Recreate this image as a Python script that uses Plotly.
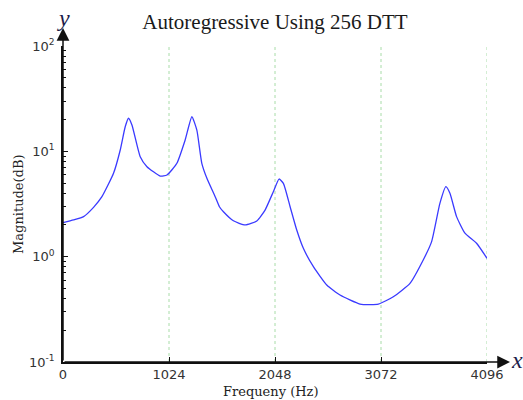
import plotly.graph_objects as go

# Frequency (Hz) and magnitude values
freq = [0, 102, 199, 295, 376, 488, 553, 601, 633, 666, 746, 811, 939, 1004,
        1100, 1180, 1245, 1293, 1341, 1390, 1470, 1511, 1550, 1646, 1759, 1872,
        1952, 2032, 2087, 2129, 2194, 2258, 2322, 2419, 2548, 2676, 2869, 3046,
        3191, 3352, 3480, 3561, 3641, 3699, 3738, 3802, 3883, 3995, 4096]
magnitude = [2.10, 2.23, 2.40, 2.94, 3.71, 6.19, 10.3, 17.1, 20.6, 17.8, 8.89,
             7.15, 5.83, 5.96, 7.70, 12.8, 21.3, 15.9, 7.70, 5.55, 3.71, 2.98,
             2.67, 2.19, 2.00, 2.18, 2.77, 4.14, 5.46, 4.97, 2.98, 1.79, 1.20,
             0.803, 0.538, 0.432, 0.355, 0.354, 0.417, 0.558, 0.930, 1.39, 3.21,
             4.62, 4.00, 2.40, 1.67, 1.34, 0.965]
x_ticks = [0, 1024, 2048, 3072, 4096]
x_tick_labels = ["0", "1024", "2048", "3072", "4096"]
y_ticks = [0.1, 1, 10, 100]
y_tick_labels = ["10<sup>-1</sup>", "10<sup>0</sup>", "10<sup>1</sup>", "10<sup>2</sup>"]

title_text = "Autoregressive Using 256 DTT"
x_title = "Frequeny (Hz)"
y_title = "Magnitude(dB)"

W, H = 523, 400
ML, MR, MT, MB = 63, 36, 46, 38
PW = W - ML - MR
PH = H - MT - MB
GRID = "#a8dca8"

fig = go.Figure()
fig.add_trace(go.Scatter(
    x=freq, y=magnitude, mode="lines",
    line=dict(color="#3a3aff", width=1.3, shape="spline", smoothing=0.5),
    hoverinfo="skip", showlegend=False,
))

tick_font = dict(family="DejaVu Sans", size=13, color="#333333")

fig.update_layout(
    width=W, height=H, autosize=False,
    margin=dict(l=ML, r=MR, t=MT, b=MB, pad=0),
    paper_bgcolor="white", plot_bgcolor="white",
    title=dict(text=title_text, x=0.5, xanchor="center", xref="paper",
               y=1 - 22 / H, yref="container", yanchor="middle",
               font=dict(family="Liberation Serif", size=21, color="#1a1a1a")),
    xaxis=dict(
        range=[0, 4096], tickmode="array", tickvals=x_ticks, ticktext=x_tick_labels,
        ticks="inside", ticklen=5, tickwidth=1, tickcolor="#111111",
        showline=True, linecolor="#111111", linewidth=1.5,
        showgrid=False, zeroline=False, tickfont=tick_font, fixedrange=True,
    ),
    yaxis=dict(
        type="log", range=[-1, 2], tickmode="array", tickvals=y_ticks,
        ticktext=y_tick_labels,
        ticks="inside", ticklen=5, tickwidth=1, tickcolor="#111111",
        minor=dict(ticks="inside", ticklen=3, tickcolor="#111111", dtick="D1",
                   showgrid=False),
        showline=True, linecolor="#111111", linewidth=1.5,
        showgrid=False, zeroline=False, tickfont=tick_font,
        ticklabelstandoff=4, fixedrange=True,
    ),
)

# dashed vertical grid lines at the non-zero x ticks
for xv in x_ticks[1:]:
    fig.add_shape(type="line", xref="x", yref="paper", x0=xv, x1=xv,
                  y0=0, y1=1, line=dict(color=GRID, width=1, dash="3px,3px"),
                  layer="below")

# axis arrows
x_tip = 510
y_tip = 28
fig.add_annotation(xref="paper", yref="paper", x=(x_tip - ML) / PW, y=0,
                   axref="pixel", ayref="pixel", ax=-(x_tip - ML), ay=0,
                   text="", showarrow=True, arrowhead=2, arrowsize=1.7,
                   arrowwidth=1.5, arrowcolor="#111111")
fig.add_annotation(xref="paper", yref="paper", x=0, y=1 + (MT - y_tip) / PH,
                   axref="pixel", ayref="pixel", ax=0, ay=(H - MB) - y_tip,
                   text="", showarrow=True, arrowhead=2, arrowsize=1.7,
                   arrowwidth=1.5, arrowcolor="#111111")

# axis letters
fig.add_annotation(xref="paper", yref="paper", x=(517 - ML) / PW, y=0,
                   yshift=2, text="<i>x</i>", showarrow=False,
                   xanchor="center", yanchor="middle",
                   font=dict(family="Liberation Serif", size=24, color="#1c1c4a"))
fig.add_annotation(xref="paper", yref="paper", x=0, y=1 + (MT - 18) / PH,
                   text="<i>y</i>", showarrow=False,
                   xanchor="center", yanchor="middle",
                   font=dict(family="Liberation Serif", size=24, color="#1c1c4a"))

# axis titles
fig.add_annotation(xref="paper", yref="paper", x=0.5, y=0, xshift=-4, yshift=-29,
                   text=x_title, showarrow=False, xanchor="center", yanchor="middle",
                   font=dict(family="DejaVu Serif", size=13, color="#222222"))
fig.add_annotation(xref="paper", yref="paper", x=0, y=0.5, xshift=18 - ML, yshift=0,
                   text=y_title, showarrow=False, textangle=-90,
                   xanchor="center", yanchor="middle",
                   font=dict(family="DejaVu Serif", size=13, color="#222222"))

fig.write_html("out.html")
